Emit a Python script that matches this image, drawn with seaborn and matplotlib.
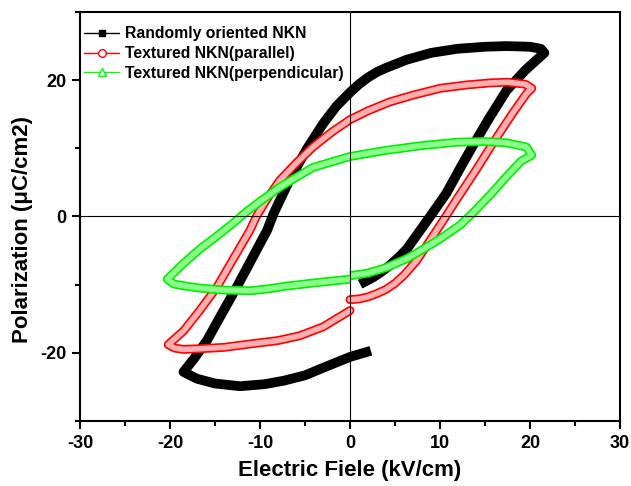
import matplotlib
matplotlib.use("Agg")
import matplotlib.pyplot as plt
import matplotlib.patheffects as pe
from matplotlib.lines import Line2D
from matplotlib.ticker import MultipleLocator, FixedLocator
import seaborn as sns
import pandas as pd

# ---- data ----
black_x = [1.6, 2.6, 3.5, 4.4, 5.4, 6.3, 7.6, 8.9, 10.7, 12.2, 13.7, 15.5, 17.4, 19.5, 21.6,
           21.2, 20.0, 17.4, 15.0, 11.9, 9.0, 6.3, 4.0, 3.0, 2.0, 1.0, 0.0, -1.5, -3.0, -4.8,
           -6.7, -8.5, -9.2, -10.9, -12.6, -14.3, -15.9, -17.3, -18.5, -17.0, -15.0, -12.2,
           -9.5, -7.4, -5.0, -3.0, -1.5, 0.0, 1.8]
black_y = [-9.6, -8.9, -8.1, -7.2, -6.0, -4.8, -2.4, 0.0, 3.4, 7.0, 10.5, 14.5, 18.5, 21.5, 24.0,
           24.6, 24.9, 25.0, 24.9, 24.6, 24.0, 23.0, 21.8, 21.2, 20.4, 19.4, 18.2, 16.2, 13.6,
           9.9, 5.4, 0.4, -2.0, -6.2, -10.4, -14.4, -18.2, -20.8, -22.8, -23.8, -24.5, -24.9,
           -24.6, -24.1, -23.3, -22.2, -21.4, -20.6, -19.9]

red_x = [0.0, 1.0, 2.0, 3.0, 4.0, 5.0, 6.0, 7.4, 8.5, 9.5, 10.4, 12.0, 14.0, 16.0, 18.0, 19.6,
         20.2, 19.5, 17.5, 15.6, 13.0, 10.0, 7.0, 4.4, 2.0, 0.0, -2.0, -4.1, -6.0, -7.8, -9.2,
         -10.4, -11.1, -13.0, -14.8, -16.7, -18.5, -19.7, -20.2, -19.5, -18.5, -16.7, -14.0,
         -11.1, -8.0, -5.6, -3.0, -1.5, 0.0]
red_y = [-12.2, -12.1, -11.8, -11.3, -10.7, -9.8, -8.6, -6.5, -4.3, -2.3, -0.5, 2.8, 6.8, 11.0,
         15.0, 18.0, 18.8, 19.4, 19.7, 19.6, 19.3, 18.8, 17.8, 16.8, 15.5, 14.2, 12.4, 10.2, 7.8,
         5.3, 2.6, 0.0, -2.0, -6.3, -10.4, -13.8, -16.8, -18.2, -18.8, -19.3, -19.5, -19.4,
         -19.2, -18.7, -18.2, -17.5, -16.2, -15.0, -13.8]

green_x = [0.0, 2.0, 4.0, 6.3, 8.0, 10.0, 12.2, 13.5, 15.6, 17.5, 19.0, 20.2, 19.6, 17.4, 15.0,
           11.9, 8.0, 4.0, 0.0, -4.1, -7.8, -10.0, -11.5, -13.0, -15.0, -16.7, -18.5, -20.3,
           -19.6, -18.3, -16.7, -14.0, -11.1, -9.0, -7.0, -5.0, -3.0, -1.5, 0.0]
green_y = [-8.7, -8.3, -7.5, -6.2, -4.9, -3.3, -1.3, 0.3, 3.2, 6.0, 8.1, 9.0, 10.2, 10.8, 11.0,
           10.9, 10.4, 9.7, 8.8, 7.2, 4.3, 2.2, 0.7, -1.0, -3.1, -4.8, -6.9, -9.2, -9.9, -10.2,
           -10.5, -10.8, -10.9, -10.6, -10.2, -9.9, -9.6, -9.4, -9.2]

labels = ["Randomly oriented NKN", "Textured NKN(parallel)", "Textured NKN(perpendicular)"]
x_ticks = [-30, -20, -10, 0, 10, 20, 30]
y_ticks = [-20, 0, 20]

sns.set_style("white")
plt.rcParams["font.family"] = ["Liberation Sans", "DejaVu Sans"]
plt.rcParams["font.weight"] = "bold"
plt.rcParams["axes.unicode_minus"] = False
plt.rcParams["text.color"] = "black"
plt.rcParams["axes.labelcolor"] = "black"
plt.rcParams["xtick.color"] = "black"
plt.rcParams["ytick.color"] = "black"

fig = plt.figure(figsize=(6.31, 4.86), dpi=100)
ax = fig.add_axes([80 / 631, 1 - 421 / 486, 540 / 631, 409 / 486])

df_b = pd.DataFrame({"E": black_x, "P": black_y})
df_r = pd.DataFrame({"E": red_x, "P": red_y})
df_g = pd.DataFrame({"E": green_x, "P": green_y})

sns.lineplot(data=df_b, x="E", y="P", sort=False, estimator=None, ax=ax, color="black",
             lw=7.0, solid_capstyle="projecting", solid_joinstyle="round", zorder=2)
sns.lineplot(data=df_r, x="E", y="P", sort=False, estimator=None, ax=ax, color="red",
             lw=6.4, solid_capstyle="round", solid_joinstyle="round", zorder=3,
             path_effects=[pe.Stroke(linewidth=6.4, foreground="#ff0000"),
                           pe.Stroke(linewidth=4.0, foreground="#ffb0b0")])
sns.lineplot(data=df_g, x="E", y="P", sort=False, estimator=None, ax=ax, color="#00ff00",
             lw=6.4, solid_capstyle="butt", solid_joinstyle="round", zorder=4,
             path_effects=[pe.Stroke(linewidth=6.4, foreground="#00ee00"),
                           pe.Stroke(linewidth=4.0, foreground="#8dff8d")])

ax.axhline(0, color="black", lw=0.8, zorder=5)
ax.axvline(0, color="black", lw=0.8, zorder=5)

ax.set_xlim(-30, 30)
ax.set_ylim(-30, 30)
ax.xaxis.set_major_locator(FixedLocator(x_ticks))
ax.xaxis.set_minor_locator(MultipleLocator(5))
ax.yaxis.set_major_locator(FixedLocator(y_ticks))
ax.yaxis.set_minor_locator(FixedLocator([-30, -10, 10, 30]))
ax.tick_params(axis="both", which="major", direction="out", length=6, width=1.5,
               labelsize=13, pad=4, bottom=True, left=True, top=False, right=False,
               colors="black")
ax.tick_params(axis="both", which="minor", direction="out", length=3.5, width=1.5,
               bottom=True, left=True, top=False, right=False, colors="black")
for lab in ax.get_xticklabels() + ax.get_yticklabels():
    lab.set_fontweight("bold")
for s in ax.spines.values():
    s.set_linewidth(1.5)
    s.set_color("black")

ax.set_xlabel("Electric Fiele (kV/cm)", fontsize=16, fontweight="bold", labelpad=6,
              color="black")
ax.set_ylabel("Polarization (\u03bcC/cm2)", fontsize=16, fontweight="bold", color="black")
ax.yaxis.set_label_coords(-0.087, 0.469)

handles = [
    Line2D([], [], color="black", lw=1, marker="s", markersize=5, markerfacecolor="black",
           markeredgecolor="black"),
    Line2D([], [], color="red", lw=1, marker="o", markersize=5.5, markerfacecolor="white",
           markeredgecolor="red"),
    Line2D([], [], color="#00ff00", lw=1, marker="^", markersize=6, markerfacecolor="white",
           markeredgecolor="#00ff00"),
]
leg = ax.legend(handles, labels, loc="upper left", bbox_to_anchor=(0.0, 0.975), frameon=False,
                prop={"weight": "bold", "size": 11.3}, handlelength=2.2,
                handletextpad=0.4, labelspacing=0.3, borderpad=0.27, borderaxespad=0)
for t in leg.get_texts():
    t.set_color("black")

fig.savefig("out.png", dpi=100)
